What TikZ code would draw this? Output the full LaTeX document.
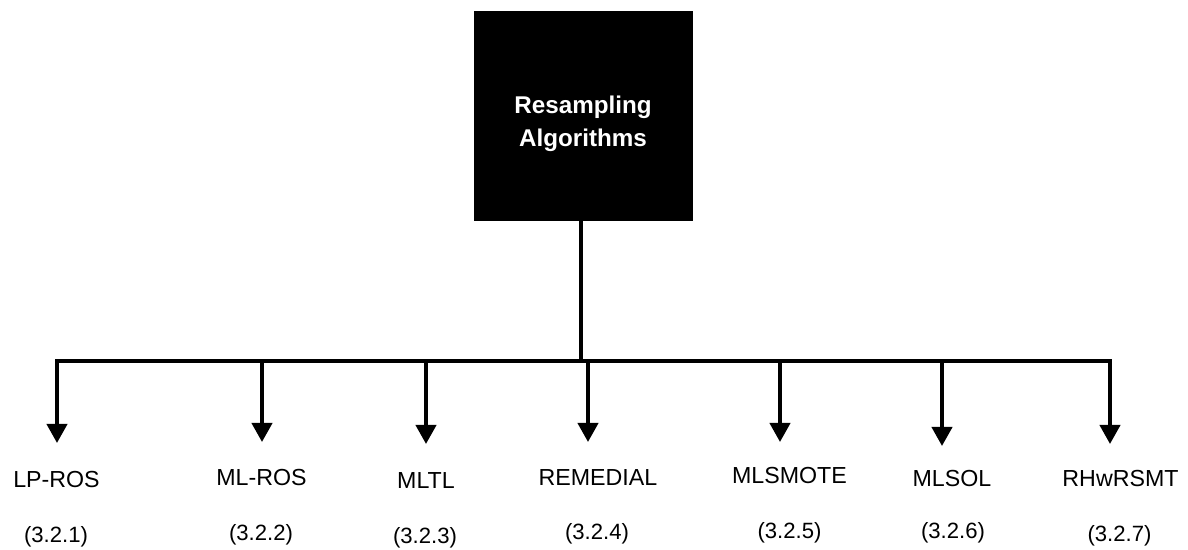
\documentclass[tikz,border=0pt]{standalone}
\usepackage{fontspec}
\setmainfont{Liberation Sans}
\usetikzlibrary{arrows.meta}
\begin{document}
\begin{tikzpicture}[x=1bp,y=-1bp,
  rootbox/.style={rectangle,fill=black,draw=black,minimum width=218bp,minimum height=209bp,inner sep=0pt},
  roottext/.style={text=white,font=\fontsize{24.3}{33}\selectfont\bfseries,align=center,inner sep=0pt},
  wire/.style={line width=4bp,line join=miter},
  arr/.style={wire,-{Triangle[width=20bp,length=19bp]}},
  method/.style={font=\fontsize{23.3}{28}\selectfont,inner sep=0pt},
  secref/.style={font=\fontsize{22.2}{26}\selectfont,inner sep=0pt}]
  \useasboundingbox (0,0) rectangle (1188,550);

  % root of the tree
  \node[rootbox] (root) at (583,115.5) {};
  \node[roottext] (roottitle) at (583,123.5) {Resampling\\Algorithms};

  % bus and arrow tips
  \coordinate (busc) at (581,361);
  \coordinate (t1) at (57,443);
  \coordinate (t2) at (262,442);
  \coordinate (t3) at (426,444);
  \coordinate (t4) at (588,442);
  \coordinate (t5) at (780,442);
  \coordinate (t6) at (942,446);
  \coordinate (t7) at (1110,444);

  \draw[wire] (root.south -| busc) -- (busc);
  \draw[arr] (busc) -| (t1);
  \draw[arr] (busc) -| (t7);
  \foreach \i in {2,...,6} {
    \draw[arr] (t\i |- busc) -- (t\i);
  }

  % method names
  \node[method] (m1) at (56.5,480) {LP-ROS};
  \node[method] (m2) at (261.5,478) {ML-ROS};
  \node[method] (m3) at (426,481) {MLTL};
  \node[method] (m4) at (598,477.5) {REMEDIAL};
  \node[method] (m5) at (789.5,476) {MLSMOTE};
  \node[method] (m6) at (952,479) {MLSOL};
  \node[method] (m7) at (1120.5,479) {RHwRSMT};

  % section references
  \node[secref] (s1) at (56,537) {(3.2.1)};
  \node[secref] (s2) at (261,535) {(3.2.2)};
  \node[secref] (s3) at (425,538) {(3.2.3)};
  \node[secref] (s4) at (597,534) {(3.2.4)};
  \node[secref] (s5) at (789.5,533) {(3.2.5)};
  \node[secref] (s6) at (953,533) {(3.2.6)};
  \node[secref] (s7) at (1119.5,536) {(3.2.7)};
\end{tikzpicture}
\end{document}
